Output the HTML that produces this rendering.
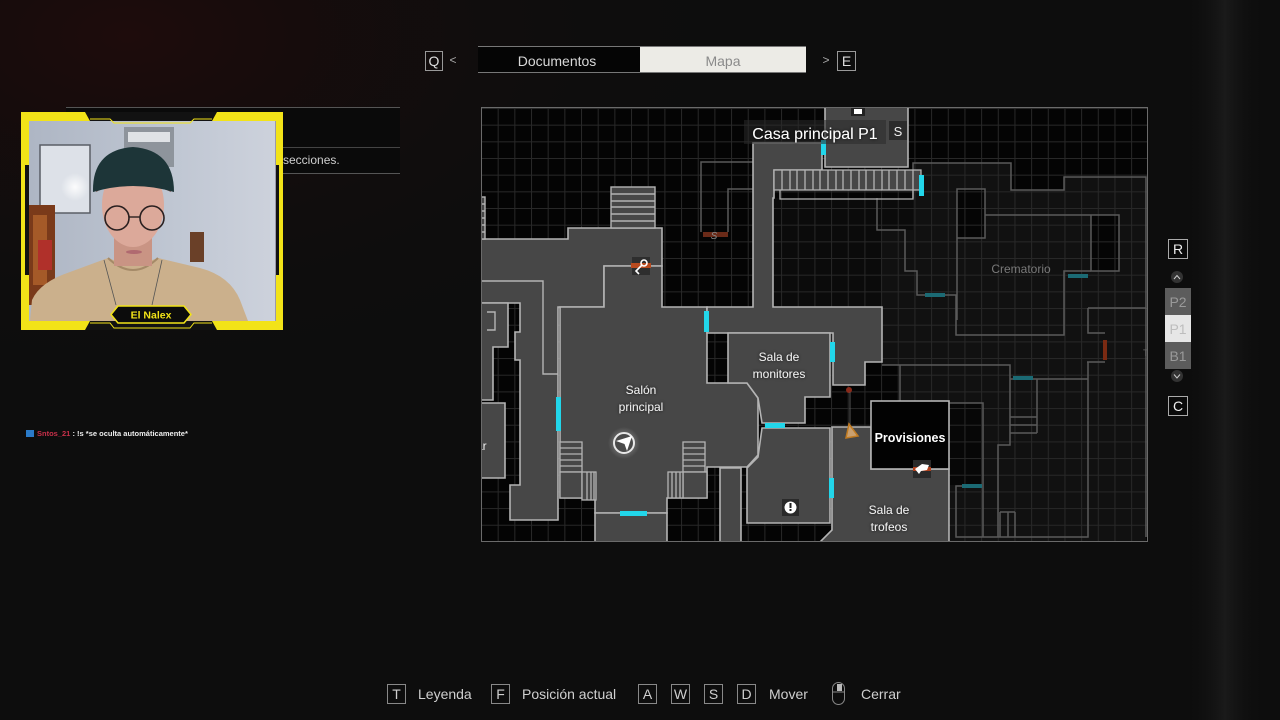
<!DOCTYPE html>
<html><head><meta charset="utf-8">
<style>
html,body{margin:0;padding:0;background:#0d0d0d;}
body{width:1280px;height:720px;overflow:hidden;position:relative;font-family:"Liberation Sans",sans-serif;}
svg{position:absolute;left:0;top:0;}
</style></head>
<body>
<svg width="1280" height="720" viewBox="0 0 1280 720" xmlns="http://www.w3.org/2000/svg" font-family="Liberation Sans, sans-serif">
<defs>
  <pattern id="grid" x="481" y="108" width="16.67" height="16.67" patternUnits="userSpaceOnUse">
    <path d="M0 0.5H16.67M0.5 0V16.67" stroke="#282828" stroke-width="1" fill="none"/>
  </pattern>
  <radialGradient id="bgred" cx="0.1" cy="0.05" r="0.5">
    <stop offset="0" stop-color="#1e0c0c"/><stop offset="1" stop-color="#0d0d0d" stop-opacity="0"/>
  </radialGradient>
  <linearGradient id="rstrip" x1="0" x2="1" y1="0" y2="0">
    <stop offset="0" stop-color="#0d0d0d" stop-opacity="0"/><stop offset="0.5" stop-color="#1a1a1a"/><stop offset="1" stop-color="#0d0d0d" stop-opacity="0"/>
  </linearGradient>
  <radialGradient id="glow" cx="0.5" cy="0.5" r="0.5">
    <stop offset="0" stop-color="#fff" stop-opacity="0.9"/><stop offset="1" stop-color="#fff" stop-opacity="0"/>
  </radialGradient>
  <linearGradient id="wall" x1="0" x2="1" y1="0" y2="0">
    <stop offset="0" stop-color="#aeb6c4"/><stop offset="0.6" stop-color="#c0c7d3"/><stop offset="1" stop-color="#cdd2dc"/>
  </linearGradient>
  <filter id="ts" x="-20%" y="-50%" width="140%" height="200%"><feDropShadow dx="0" dy="0" stdDeviation="1.5" flood-color="#000" flood-opacity="0.8"/></filter>
  <clipPath id="mapclip"><rect x="481" y="107" width="667" height="435"/></clipPath>
  <clipPath id="cam"><rect x="29" y="121" width="247" height="200"/></clipPath>
</defs>

<!-- background -->
<rect width="1280" height="720" fill="#0d0d0d"/>
<rect width="1280" height="720" fill="url(#bgred)"/>
<rect x="1185" y="0" width="80" height="720" fill="url(#rstrip)"/>

<!-- top tabs -->
<rect x="425.5" y="51.5" width="17" height="19" fill="none" stroke="#999" stroke-width="1"/>
<text x="434" y="66" font-size="14" fill="#ddd" text-anchor="middle">Q</text>
<text x="453" y="64" font-size="12" fill="#aaa" text-anchor="middle">&lt;</text>
<rect x="478" y="46" width="328" height="27" fill="#050505"/>
<line x1="478" y1="46.5" x2="806" y2="46.5" stroke="#777"/>
<line x1="478" y1="72.5" x2="806" y2="72.5" stroke="#777"/>
<rect x="640" y="47" width="166" height="25" fill="#ecebe6"/>
<text x="557" y="66" font-size="14" fill="#d8d8d8" text-anchor="middle">Documentos</text>
<text x="723" y="66" font-size="14" fill="#8a8a8a" text-anchor="middle">Mapa</text>
<text x="826" y="64" font-size="12" fill="#aaa" text-anchor="middle">&gt;</text>
<rect x="837.5" y="51.5" width="18" height="19" fill="none" stroke="#999" stroke-width="1"/>
<text x="846.5" y="66" font-size="14" fill="#ddd" text-anchor="middle">E</text>

<!-- panel behind webcam -->
<rect x="66" y="107" width="334" height="66" fill="#0a0a0a"/>
<line x1="66" y1="107.5" x2="400" y2="107.5" stroke="#555"/>
<line x1="280" y1="147.5" x2="400" y2="147.5" stroke="#444"/>
<line x1="280" y1="173.5" x2="400" y2="173.5" stroke="#555"/>
<text x="283" y="164" font-size="12" fill="#cfcfcf">secciones.</text>

<!-- ========== MAP ========== -->
<g clip-path="url(#mapclip)">
<rect x="481" y="107" width="667" height="435" fill="#040404"/>
<path d="M913,163 H1011 V190 H1064 V177 H1146 V542 H950 V469 H900 V365 H882 V230 H877 V198 H913 Z" fill="#111"/>
<path d="M773,198 H913 V230 H882 V307 H773 Z" fill="#0b0b0b"/>
<rect x="957" y="189" width="28" height="49" fill="#050505"/>
<rect x="1091" y="215" width="28" height="56" fill="#050505"/>
<rect x="950" y="403" width="33" height="82" fill="#070707"/>
<rect x="481" y="107" width="667" height="435" fill="url(#grid)"/>

<g fill="none" stroke="#5a5a5a" stroke-width="1.5">
  <path d="M701,232 V162 H753"/>
  <path d="M728,232 V189 H753"/>
  <path d="M913,198 V163 H1011 V190 H1064 V177 H1146 V308 H1088"/>
  <path d="M957,320 V189 H985 V238 H957"/>
  <path d="M985,215 H1119 V271 H1091 V215"/>
  <path d="M1091,271 H1064 V335 H956 V295 H917 V271 H905 V230 H877 V198"/>
  <path d="M1088,308 V333 H1105"/>
  <path d="M882,365 H1010 V445 H998 V537"/>
  <path d="M900,365 V401"/>
  <path d="M1010,379 H1088"/>
  <path d="M1037,379 V433"/>
  <path d="M1010,417 H1037 M1010,425 H1037 M1010,433 H1037"/>
  <path d="M1087,362 H1105 M1088,362 V537 H956 V486 H962"/>
  <path d="M947,403 H983 V537"/>
  <path d="M1000,512 V537 M1008,512 V537 M1015,512 V537 M1000,512 H1015"/>
  <path d="M1146,308 V537"/>
</g>
<text x="1021" y="273" font-size="12" fill="#7a7a7a" text-anchor="middle">Crematorio</text>
<text x="1143" y="356" font-size="9" fill="#666">T</text>

<g fill="#474747" stroke="#b4b4b4" stroke-width="1.6" stroke-linejoin="miter">
  <path d="M481,239 H568 V228 H662 V266 H604 V307 H558 V520 H510 V485 H520 V360 H515 V332 H520 V303 H481 Z"/>
  <path d="M481,303 H508 V347 H493 V400 H481 Z"/>
  <path d="M481,403 H505 V478 H481 Z"/>
  <path d="M560,307 H604 V266 H662 V307 H707 V383 H747 L758,398 V455 L747,467 H707 V498 H667 V513 H595 V498 H560 Z"/>
  <path d="M753,143 H822 V170 H774 V198 H773 V307 H882 V362 H865 V385 H833 V333 H707 V307 H753 Z"/>
  <path d="M825,100 H908 V167 H825 Z"/>
  <path d="M728,333 H830 V397 H805 V423 H762 L758,398 L747,383 H728 Z"/>
  <path d="M762,428 H830 V523 H747 V468 L758,457 Z"/>
  <path d="M720,468 H741 V550 H720 Z"/>
  <path d="M595,513 H667 V550 H595 Z"/>
  <path d="M832,427 H871 V469 H949 V550 H812 L832,530 Z"/>
</g>
<g fill="none" stroke="#b4b4b4" stroke-width="1.4">
  <path d="M481,281 H543 V374 H558"/>
  <path d="M487,312 H495 V330 H487"/>
</g>
<g fill="#474747" stroke="#b4b4b4" stroke-width="1.4">
  <rect x="611" y="187" width="44" height="41"/>
  <path d="M611,194 H655 M611,201 H655 M611,207 H655 M611,214 H655 M611,221 H655" fill="none"/>
  <rect x="481" y="197" width="4" height="42"/>
  <path d="M481,204 H485 M481,211 H485 M481,218 H485 M481,225 H485 M481,232 H485" fill="none"/>
</g>
<g fill="#474747" stroke="#b4b4b4" stroke-width="1.3">
  <rect x="774" y="170" width="147" height="20"/>
  <path d="M780,190 V199 H913 V190" fill="none"/>
  <path d="M782,170V190 M790,170V190 M797,170V190 M805,170V190 M813,170V190 M820,170V190 M828,170V190 M836,170V190 M843,170V190 M851,170V190 M859,170V190 M866,170V190 M874,170V190 M882,170V190 M889,170V190 M897,170V190 M905,170V190 M913,170V190" fill="none"/>
</g>
<g fill="#474747" stroke="#b4b4b4" stroke-width="1.3">
  <rect x="560" y="442" width="22" height="30"/>
  <path d="M560,448H582 M560,454H582 M560,460H582 M560,466H582" fill="none"/>
  <rect x="560" y="472" width="22" height="26"/>
  <rect x="582" y="472" width="14" height="28"/>
  <path d="M587,472V500 M591,472V500 M594,472V500" fill="none"/>
  <rect x="683" y="442" width="22" height="30"/>
  <path d="M683,448H705 M683,454H705 M683,460H705 M683,466H705" fill="none"/>
  <rect x="683" y="472" width="24" height="26"/>
  <rect x="668" y="472" width="15" height="26"/>
  <path d="M672,472V498 M676,472V498 M680,472V498" fill="none"/>
</g>

<rect x="871" y="401" width="78" height="68" fill="#020202" stroke="#b4b4b4" stroke-width="1.6"/>
<text x="910" y="442" font-size="12.5" font-weight="bold" fill="#fff" text-anchor="middle">Provisiones</text>
<rect x="913" y="460" width="18" height="18" fill="#2a2a2a"/>
<rect x="913" y="467" width="18" height="4" fill="#b0401c"/>
<path d="M915,469 L922,464 L929,465 L927,470 L921,471 L919,474 Z" fill="#fff"/>

<g fill="#22d6ea">
  <rect x="704" y="311" width="5" height="21"/>
  <rect x="830" y="342" width="5" height="20"/>
  <rect x="556" y="397" width="5" height="34"/>
  <rect x="620" y="511" width="27" height="5"/>
  <rect x="765" y="423" width="20" height="5"/>
  <rect x="829" y="478" width="5" height="20"/>
  <rect x="919" y="175" width="5" height="21"/>
  <rect x="821" y="140" width="5" height="15"/>
</g>
<g fill="#1b6a74">
  <rect x="925" y="293" width="20" height="4"/>
  <rect x="1068" y="274" width="20" height="4"/>
  <rect x="1013" y="376" width="20" height="4"/>
  <rect x="962" y="484" width="20" height="4"/>
</g>
<rect x="1103" y="340" width="4" height="20" fill="#7a2a12"/>
<rect x="703" y="232" width="25" height="5" fill="#6a2a18"/>
<text x="714" y="239" font-size="10" fill="#888" text-anchor="middle" font-style="italic">S</text>

<rect x="632" y="257" width="18" height="18" fill="#2e2e2e"/>
<rect x="631" y="263" width="20" height="5" fill="#b84a1e"/>
<circle cx="644" cy="263" r="3" fill="none" stroke="#fff" stroke-width="1.6"/>
<path d="M642,265 L636,271 L639,274" fill="none" stroke="#fff" stroke-width="1.6"/>

<rect x="782" y="499" width="17" height="17" fill="#2a2a2a"/>
<circle cx="790.5" cy="507.5" r="6" fill="#fff"/>
<rect x="789.5" y="503" width="2" height="5" fill="#222"/>
<rect x="789.5" y="509" width="2" height="2" fill="#222"/>

<circle cx="849" cy="390" r="3" fill="#8a2a1a"/>
<line x1="850" y1="392" x2="850" y2="425" stroke="#555" stroke-width="1"/>
<path d="M849,424 L858,436 L846,438 Z" fill="#c9a070" stroke="#c07a20" stroke-width="1.5"/>

<circle cx="624" cy="443" r="16" fill="url(#glow)" opacity="0.5"/>
<circle cx="624" cy="443" r="10" fill="#4a4a4a" stroke="#e8e8e8" stroke-width="2"/>
<path d="M616,441 L632,436 L627,451 L624.5,444 Z" fill="#fff"/>

<rect x="851" y="107" width="14" height="9" fill="#222"/>
<rect x="854" y="109" width="8" height="5" fill="#fff"/>
<rect x="744" y="120" width="142" height="24" fill="#2a2a2a" opacity="0.55"/>
<text x="815" y="139" font-size="16" fill="#fff" text-anchor="middle" filter="url(#ts)">Casa principal P1</text>
<rect x="889" y="121" width="18" height="19" fill="#2c2c2c"/>
<text x="898" y="136" font-size="13" fill="#eee" text-anchor="middle">S</text>

<g font-size="12" fill="#f0f0f0" text-anchor="middle" filter="url(#ts)">
  <text x="641" y="394">Salón</text>
  <text x="641" y="411">principal</text>
  <text x="779" y="361">Sala de</text>
  <text x="779" y="378">monitores</text>
  <text x="889" y="514">Sala de</text>
  <text x="889" y="531">trofeos</text>
</g>
<text x="476" y="450" font-size="12" fill="#f0f0f0">ar</text>
</g>

<rect x="481.5" y="107.5" width="666" height="434" fill="none" stroke="#6a6a6a" stroke-width="1"/>

<!-- floor selector -->
<rect x="1168.5" y="239.5" width="19" height="19" fill="#0a0a0a" stroke="#aaa"/>
<text x="1178" y="254" font-size="14" fill="#eee" text-anchor="middle">R</text>
<circle cx="1177" cy="277" r="6" fill="#333"/>
<path d="M1174,279 L1177,275.5 L1180,279" fill="none" stroke="#ccc" stroke-width="1"/>
<rect x="1165" y="288" width="26" height="27" fill="#5c5c5c"/>
<rect x="1165" y="315" width="26" height="27" fill="#e6e6e6"/>
<rect x="1165" y="342" width="26" height="27" fill="#5c5c5c"/>
<text x="1178" y="307" font-size="14" fill="#9a9a9a" text-anchor="middle">P2</text>
<text x="1178" y="334" font-size="14" fill="#bdbdbd" text-anchor="middle">P1</text>
<text x="1178" y="361" font-size="14" fill="#9a9a9a" text-anchor="middle">B1</text>
<circle cx="1177" cy="376" r="6" fill="#333"/>
<path d="M1174,374.5 L1177,378 L1180,374.5" fill="none" stroke="#ccc" stroke-width="1"/>
<rect x="1168.5" y="396.5" width="19" height="19" fill="#0a0a0a" stroke="#aaa"/>
<text x="1178" y="411" font-size="14" fill="#eee" text-anchor="middle">C</text>

<!-- bottom bar -->
<g fill="none" stroke="#888" stroke-width="1">
  <rect x="387.5" y="684.5" width="18" height="19"/>
  <rect x="491.5" y="684.5" width="18" height="19"/>
  <rect x="638.5" y="684.5" width="18" height="19"/>
  <rect x="671.5" y="684.5" width="18" height="19"/>
  <rect x="704.5" y="684.5" width="18" height="19"/>
  <rect x="737.5" y="684.5" width="18" height="19"/>
  <rect x="832.5" y="682.5" width="12" height="22" rx="6"/>
  <line x1="832.5" y1="692" x2="844.5" y2="692"/>
</g>
<rect x="837" y="684" width="5" height="7" fill="#bbb"/>
<g font-size="14" fill="#cfcfcf">
  <text x="396.5" y="699" text-anchor="middle">T</text>
  <text x="418" y="699">Leyenda</text>
  <text x="500.5" y="699" text-anchor="middle">F</text>
  <text x="522" y="699">Posición actual</text>
  <text x="647.5" y="699" text-anchor="middle">A</text>
  <text x="680.5" y="699" text-anchor="middle">W</text>
  <text x="713.5" y="699" text-anchor="middle">S</text>
  <text x="746.5" y="699" text-anchor="middle">D</text>
  <text x="769" y="699">Mover</text>
  <text x="861" y="699">Cerrar</text>
</g>

<!-- chat line -->
<rect x="26" y="430" width="8" height="7" fill="#2a7ac8"/>
<text x="37" y="436" font-size="7.5" font-weight="bold" fill="#c8304a">Sntos_21<tspan fill="#eee"> : !s *se oculta automáticamente*</tspan></text>

<!-- ========== WEBCAM ========== -->
<rect x="21" y="112" width="262" height="218" fill="#121212"/>
<g clip-path="url(#cam)">
  <rect x="29" y="121" width="247" height="200" fill="url(#wall)"/>
  <rect x="124" y="127" width="50" height="40" fill="#8e949c"/>
  <rect x="128" y="132" width="42" height="10" fill="#dfe2e6"/>
  <rect x="40" y="145" width="50" height="68" fill="#dde1e8" stroke="#5a5e66" stroke-width="1.5"/>
  <circle cx="75" cy="187" r="14" fill="url(#glow)"/>
  <rect x="29" y="205" width="26" height="100" fill="#7a3a1a"/>
  <rect x="33" y="215" width="14" height="70" fill="#a55a28"/>
  <rect x="38" y="240" width="14" height="30" fill="#b0302a"/>
  <rect x="190" y="232" width="14" height="30" fill="#6a4028"/>
  <rect x="275" y="121" width="2" height="200" fill="#99a"/>
  <path d="M30,321 L32,300 Q40,282 70,272 L108,258 Q133,268 158,258 L200,268 Q230,276 240,300 L248,321 Z" fill="#cbb08c"/>
  <path d="M108,258 Q133,282 158,258" fill="none" stroke="#a58a68" stroke-width="2"/>
  <rect x="114" y="232" width="38" height="34" fill="#c99484"/>
  <ellipse cx="133" cy="205" rx="31" ry="42" fill="#dca99a"/>
  <path d="M96,192 Q100,178 133,176 Q166,178 171,192 Q160,186 133,186 Q106,186 96,192 Z" fill="#6a4030"/>
  <path d="M93,192 Q92,150 133,147 Q174,150 174,192 Q133,180 93,192 Z" fill="#1d3538"/>
  <circle cx="117" cy="218" r="12" fill="none" stroke="#2a2020" stroke-width="1.6"/>
  <circle cx="152" cy="218" r="12" fill="none" stroke="#2a2020" stroke-width="1.6"/>
  <line x1="129" y1="217" x2="140" y2="217" stroke="#2a2020" stroke-width="1.4"/>
  <ellipse cx="134" cy="252" rx="8" ry="2" fill="#b06a70"/>
  <path d="M104,260 L116,305 M162,260 L152,305" stroke="#555" stroke-width="0.8" fill="none"/>
</g>
<g fill="#f2e318">
  <rect x="21" y="112" width="4" height="218"/>
  <rect x="279" y="112" width="4" height="218"/>
  <path d="M21,112 H85 L90,121 H29 V165 H21 Z"/>
  <path d="M217,112 H283 V165 H276 V121 H212 Z"/>
  <path d="M21,330 H85 L90,321 H29 V275 H21 Z"/>
  <path d="M217,330 H283 V275 H276 V321 H212 Z"/>
</g>
<path d="M90,119 H110 L114,123 H190 L194,119 H212" fill="none" stroke="#f2e318" stroke-width="1"/>
<path d="M90,323 H110 L114,328 H190 L194,323 H212" fill="none" stroke="#f2e318" stroke-width="1"/>
<path d="M118,306 H184 L191,314.5 L184,323 H118 L111,314.5 Z" fill="#0c0c0c" stroke="#f2e318" stroke-width="1.5"/>
<text x="151" y="318.5" font-size="10.5" font-weight="bold" fill="#f2e318" text-anchor="middle">El Nalex</text>
</svg>
</body></html>
